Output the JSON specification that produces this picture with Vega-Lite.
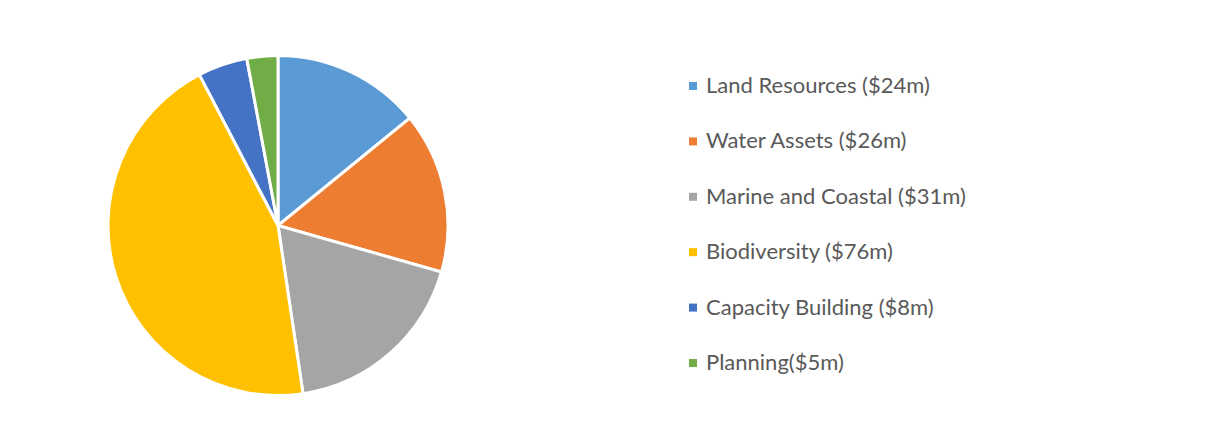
{
  "$schema": "https://vega.github.io/schema/vega-lite/v6.json",
  "width": 556,
  "height": 451,
  "padding": 0,
  "autosize": {"type": "pad"},
  "background": "white",
  "data": {"values": [
    {"idx": 1, "cat": "Land Resources ($24m)", "value": 24},
    {"idx": 2, "cat": "Water Assets ($26m)", "value": 26},
    {"idx": 3, "cat": "Marine and Coastal ($31m)", "value": 31},
    {"idx": 4, "cat": "Biodiversity ($76m)", "value": 76},
    {"idx": 5, "cat": "Capacity Building ($8m)", "value": 8},
    {"idx": 6, "cat": "Planning($5m)", "value": 5}
  ]},
  "mark": {"type": "arc", "outerRadius": 170, "stroke": "white", "strokeWidth": 3},
  "encoding": {
    "theta": {"field": "value", "type": "quantitative", "stack": true},
    "order": {"field": "idx", "type": "quantitative"},
    "color": {
      "field": "cat", "type": "nominal", "sort": null,
      "scale": {
        "domain": ["Land Resources ($24m)", "Water Assets ($26m)", "Marine and Coastal ($31m)", "Biodiversity ($76m)", "Capacity Building ($8m)", "Planning($5m)"],
        "range": ["#5B9BD5", "#ED7D31", "#A5A5A5", "#FFC000", "#4472C4", "#70AD47"]
      },
      "legend": {
        "title": null, "orient": "none", "legendX": 682, "legendY": 75,
        "padding": 0, "symbolType": "square", "symbolSize": 64, "symbolStrokeWidth": 0,
        "labelFont": "Lato", "labelFontSize": 22, "labelColor": "#595959",
        "labelOffset": 2, "rowPadding": 33.4, "labelLimit": 500
      }
    }
  },
  "config": {"view": {"stroke": null}}
}
